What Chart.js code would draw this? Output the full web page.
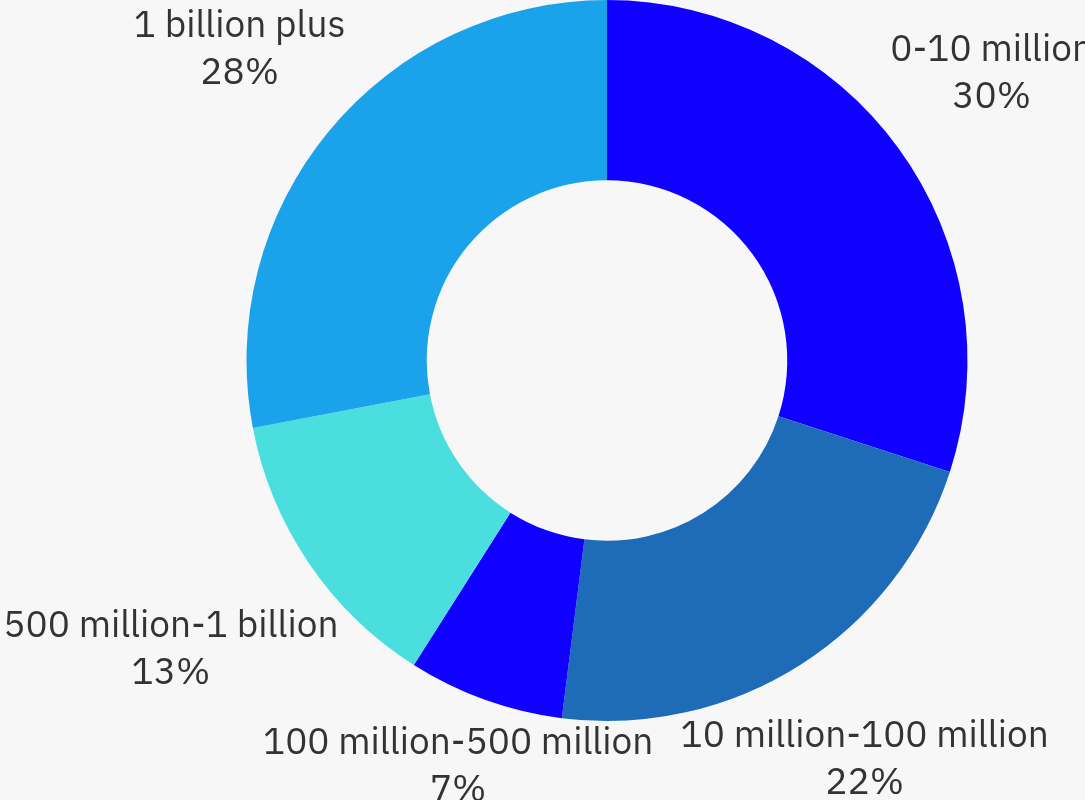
<!DOCTYPE html>
<html>
<head>
<meta charset="utf-8">
<script src="https://cdn.jsdelivr.net/npm/chart.js@4/dist/chart.umd.min.js"></script>
<style>
  html, body { margin: 0; padding: 0; background: #f7f7f7; overflow: hidden; }
  #wrap { width: 1085px; height: 800px; }
</style>
</head>
<body>
<div id="wrap"><canvas id="c" width="1085" height="800"></canvas></div>
<script>
const categories = ['0-10 million', '10 million-100 million', '100 million-500 million', '500 million-1 billion', '1 billion plus'];
const shares = [30, 22, 7, 13, 28];
const percentLabels = ['30%', '22%', '7%', '13%', '28%'];
const sliceColors = ['#1000FF', '#1E6BB8', '#1000FF', '#4ADEDE', '#1AA3EA'];

const FONT_SIZE = 37;
const LINE_H = 47;
const GAP = 6;
const TEXT_SHIFT = -7;

const outsideLabels = {
  id: 'outsideLabels',
  afterDatasetsDraw(chart) {
    const ctx = chart.ctx;
    const meta = chart.getDatasetMeta(0);
    ctx.save();
    ctx.font = FONT_SIZE + 'px "IBM Plex Sans", Inter, "Noto Sans", sans-serif';
    ctx.fillStyle = '#333333';
    ctx.textAlign = 'center';
    ctx.textBaseline = 'middle';
    meta.data.forEach((arc, i) => {
      const p = arc.getProps(['x', 'y', 'startAngle', 'endAngle', 'outerRadius'], true);
      const mid = (p.startAngle + p.endAngle) / 2;
      const ux = Math.cos(mid), uy = Math.sin(mid);
      const lines = [categories[i], percentLabels[i]];
      const w = Math.max(...lines.map(t => ctx.measureText(t).width));
      const h = LINE_H * lines.length;
      const target = p.outerRadius + GAP;
      const nearest = (d) => {
        const dx = ux * d, dy = uy * d;
        const px = Math.min(Math.max(0, dx - w / 2), dx + w / 2);
        const py = Math.min(Math.max(0, dy - h / 2), dy + h / 2);
        return Math.hypot(px, py);
      };
      let lo = 0, hi = 2000;
      for (let k = 0; k < 60; k++) {
        const m = (lo + hi) / 2;
        if (nearest(m) < target) lo = m; else hi = m;
      }
      const cx = p.x + ux * lo, cy = p.y + uy * lo + TEXT_SHIFT;
      lines.forEach((t, j) => {
        ctx.fillText(t, cx, cy + (j - (lines.length - 1) / 2) * LINE_H);
      });
    });
    ctx.restore();
  }
};

new Chart(document.getElementById('c'), {
  type: 'doughnut',
  data: {
    labels: categories,
    datasets: [{
      data: shares,
      backgroundColor: sliceColors,
      borderWidth: 0
    }]
  },
  options: {
    responsive: false,
    animation: false,
    cutout: '50%',
    layout: { padding: { left: 246, right: 117, top: 0, bottom: 79 } },
    plugins: {
      legend: { display: false },
      tooltip: { enabled: false }
    }
  },
  plugins: [outsideLabels]
});
</script>
</body>
</html>
